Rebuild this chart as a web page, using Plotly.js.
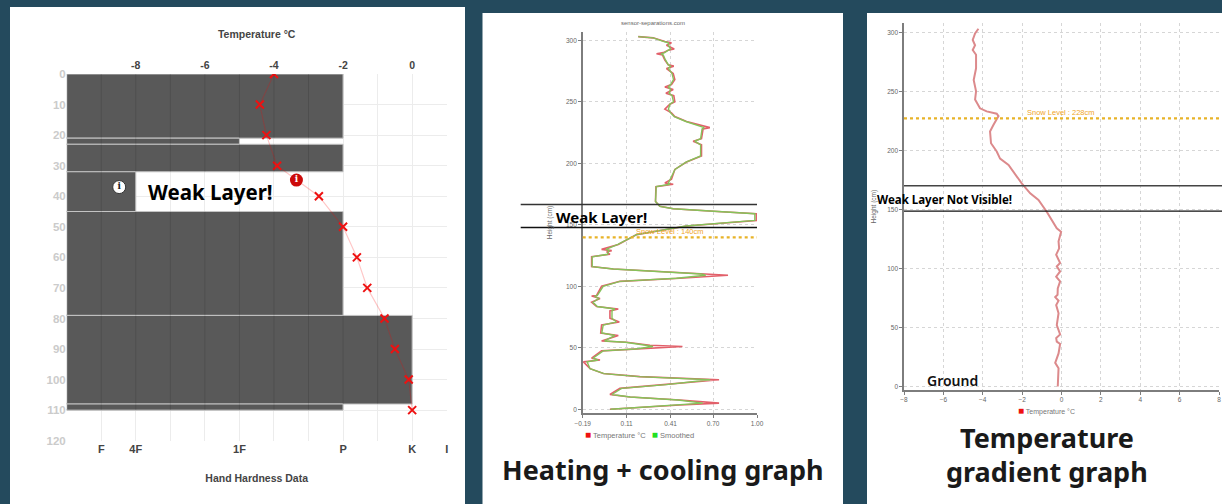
<!DOCTYPE html>
<html><head><meta charset="utf-8">
<script src="https://cdn.plot.ly/plotly-3.0.1.min.js"></script>
<style>html,body{margin:0;padding:0;background:#244a5d;overflow:hidden}</style>
</head><body><div id="chart" style="width:1222px;height:504px"></div>
<script>
// Chart 1: hand hardness profile
const layerTop = [0,21,23,32,45,79,108];
const layerBottom = [21,23,32,45,79,108,110];
const layerHardness = [-2,-5,-2,-8,-2,0,-2];
const leaderLeftDepth = [13.7,19.2,29.2,41.8,67.7,89.8,95.5];
const profileDepth = [0,10,20,30,40,50,60,70,80,90,100,110];
const profileTemp = [-4,-4.41,-4.22,-3.91,-2.7,-2,-1.6,-1.3,-0.8,-0.5,-0.1,0];
const hardnessVals = [-9,-8,-5,-2,0,1];
const hardnessText = ['F','4F','1F','P','K','I'];
const tempGrid = [-10,-9,-8,-7,-6,-5,-4,-3,-2,-1,0,1];
const tempLabelled = [-8,-6,-4,-2,0];
const depthTicks = [0,10,20,30,40,50,60,70,80,90,100,110,120];

// Chart 2: heating + cooling
const gradHeight = [303,302,299,298,296,293,292,290,289,288,284,280,279,277,273,268,264,262,260,257,255,250,248,244,241,238,234,231,229,228,220,218,215,206,201,195,187,184,183,181,169,165,163,161,159,153.5,151,149,142,138,134,130,129,128,126,124,116,114,111.5,110,109,106.5,104,100,92.5,92,90,87,83.5,81.5,80,74,71,68.5,62,60,55.5,54.5,52,51,49,47.5,41.5,40,38.5,33,29,26.5,24,20,17,12,10,7.5,5,3.5,1,0];
const gradRaw = [.189,.291,.371,.416,.382,.435,.394,.360,.314,.355,.371,.394,.432,.382,.428,.439,.416,.371,.428,.378,.432,.439,.405,.371,.416,.439,.519,.609,.678,.632,.621,.564,.621,.621,.519,.439,.416,.371,.428,.310,.307,.337,.428,.700,.995,.995,.700,.519,.178,.110,.053,-.061,.008,-.026,-.004,-.129,-.129,.019,.382,.678,.802,.473,.064,-.061,-.095,-.129,-.072,-.129,-.095,.053,-.004,-.004,.060,-.061,-.067,.053,-.061,.110,.269,.491,.178,-.061,-.129,-.072,-.185,-.140,-.049,.200,.741,.382,.064,-.004,.132,.473,.741,.473,.132,-.004];
const gradSmooth = [.189,.291,.365,.395,.395,.410,.395,.370,.345,.360,.375,.395,.410,.395,.420,.430,.410,.395,.410,.400,.420,.430,.405,.395,.410,.435,.515,.600,.640,.625,.615,.575,.615,.615,.515,.440,.410,.395,.405,.312,.307,.337,.428,.690,.985,.985,.695,.515,.178,.110,.050,-.030,-.010,-.015,-.020,-.125,-.125,.019,.370,.620,.650,.450,.064,-.050,-.090,-.110,-.080,-.120,-.090,.030,.010,.010,.040,-.050,-.060,.030,-.040,.100,.240,.290,.170,-.050,-.120,-.085,-.160,-.140,-.045,.195,.680,.380,.075,.010,.135,.460,.630,.465,.135,.000];
const gradXTicks = [-0.19,0.11,0.41,0.70,1.00];
const heightTicks = [0,50,100,150,200,250,300];
const snow2 = 139.7, weak2 = [166.5,147.8];

// Chart 3: temperature gradient
const tempHeight = [303,299,293.5,289,285,281,269.5,259.6,250,243,235.6,233,231,229,221.5,216,206,199,193,187.6,172,163.6,158,148,134,131,123,117,111.6,104.5,101.7,97.5,93,89,83,77.7,75.7,72.6,69,62,52,44,41,38,36,28,20,15.5,0];
const tempValue = [-4.22,-4.39,-4.51,-4.39,-4.51,-4.34,-4.34,-4.46,-4.34,-4.39,-4.14,-3.80,-3.29,-3.20,-3.46,-3.63,-3.58,-3.29,-3.12,-2.69,-2.02,-1.59,-1.17,-0.75,-0.24,-0.02,-0.15,-0.12,-0.27,-0.07,-0.24,-0.07,-0.27,-0.07,-0.19,-0.20,-0.32,-0.15,-0.27,-0.15,-0.24,-0.07,-0.27,-0.24,-0.07,-0.15,-0.32,-0.15,-0.19];
const temp3Ticks = [-8,-6,-4,-2,0,2,4,6,8];
const snow3 = 227, weak3 = [170,148.5];

const W = 1222, H = 504;
const dx = (a,b) => [a/W, b/W];
const dy = (t,b) => [1-b/H, 1-t/H];
const px = a => a/W, py = a => 1-a/H;
const sans = 'Liberation Sans, Arial, sans-serif';
const head = 'Noto Sans, sans-serif';

const traces = [
  { type:'bar', orientation:'h', xaxis:'x', yaxis:'y', name:'Hand hardness',
    y: layerTop.map((t,i)=>(t+layerBottom[i])/2),
    width: layerTop.map((t,i)=>layerBottom[i]-t),
    x: layerHardness.map(v=>v+10), base:-10,
    marker:{color:'#595959', line:{color:'#c4c4c4', width:1}}, showlegend:false },
  { type:'scatter', mode:'lines+markers', xaxis:'x2', yaxis:'y', name:'Temperature °C',
    x: profileTemp, y: profileDepth, showlegend:false,
    line:{color:'rgba(255,0,0,0.22)', width:1.2},
    marker:{symbol:'x-thin', size:8, color:'#ee1111', line:{color:'#ee1111', width:2}} }
];
// Leader lines running off the left of the profile
layerBottom.forEach((b,i)=>{
  traces.push({type:'scatter', mode:'lines', xaxis:'x2', yaxis:'y', cliponaxis:false, showlegend:false,
    x:[-11.64,-10], y:[leaderLeftDepth[i], b], line:{color:'#8f8f8f', width:1.3}});
});
traces.push(
  { type:'scatter', mode:'markers+text', xaxis:'x2', yaxis:'y', showlegend:false, cliponaxis:false,
    x:[-3.35], y:[34.7], text:['<b>i</b>'], textposition:'middle center',
    textfont:{color:'#fff', size:9, family:'DejaVu Serif'},
    marker:{size:13, color:'#cc0a0a'} },
  { type:'scatter', mode:'markers+text', xaxis:'x2', yaxis:'y', showlegend:false, cliponaxis:false,
    x:[-8.48], y:[37], text:['<b>i</b>'], textposition:'middle center',
    textfont:{color:'#222', size:9, family:'DejaVu Serif'},
    marker:{size:13, color:'#fff', line:{color:'#333', width:1}} },
  { type:'scatter', mode:'lines', xaxis:'x3', yaxis:'y3', name:'Temperature °C', showlegend:false,
    x:gradRaw, y:gradHeight, line:{color:'#e2606a', width:1.6} },
  { type:'scatter', mode:'lines', xaxis:'x3', yaxis:'y3', name:'Smoothed', showlegend:false,
    x:gradSmooth, y:gradHeight, line:{color:'#86c25a', width:1.4} },
  { type:'scatter', mode:'lines', xaxis:'x4', yaxis:'y4', name:'Temperature °C', showlegend:false,
    x:tempValue, y:tempHeight, line:{color:'#dc8a8c', width:2} }
);

const panel = (a,t,b,e) => ({type:'rect', xref:'paper', yref:'paper', layer:'below',
  x0:px(a), x1:px(b), y0:py(e), y1:py(t), fillcolor:'#fff', line:{width:0}});
const shapes = [panel(10,7,465,504), panel(482.5,13,843,504), panel(867,13,1222,504)];

// Darker grid showing through the hardness bars
tempGrid.forEach(g=>{
  layerTop.forEach((t,i)=>{
    if(g>-10 && g<layerHardness[i]) shapes.push({type:'line', xref:'x2', yref:'y', layer:'above',
      x0:g, x1:g, y0:t, y1:layerBottom[i], line:{color:'rgba(0,0,0,0.12)', width:1}});
  });
});
const hline = (yref,y,a,b,col,wd,dash) => ({type:'line', xref:'paper', yref, layer:'above',
  x0:px(a), x1:px(b), y0:y, y1:y, line:{color:col, width:wd, dash:dash||'solid'}});
shapes.push(
  hline('y3',snow2,582.7,757,'#e8b328',2.2,'dot'),
  hline('y3',weak2[0],520.7,757,'#333',1.4),
  hline('y3',weak2[1],520.7,757,'#111',1.4),
  hline('y4',snow3,904,1219,'#e8b328',2.2,'dot'),
  hline('y4',weak3[0],904,1222,'#444',1.4),
  hline('y4',weak3[1],904,1222,'#111',1.4)
);

const note = (text,x,y,size,color,weight,extra) => Object.assign({
  text, xref:'paper', yref:'paper', x:px(x), y:py(y), xanchor:'center', yanchor:'middle',
  showarrow:false, font:{family:head, size, color:color||'#000', weight:weight||700}
}, extra||{});
const annotations = [
  note('Weak Layer!',210,192,20.5),
  note('Weak Layer!',601,217,15),
  note('Weak Layer Not Visible!',944.5,200,11.5),
  note('Ground',952,380,14,'#111',600),
  note('Heating + cooling graph',662.5,469,27,'#1a1a1a',700),
  note('Temperature',1047,437,27,'#1a1a1a',700),
  note('gradient graph',1047,471,27,'#1a1a1a',700),
  note('Snow Level : 140cm',670,232,7,'#efa52a',400,{font:{family:sans,size:7.5,color:'#efa52a'}}),
  note('Snow Level : 228cm',1061,113,7,'#efa52a',400,{font:{family:sans,size:7.5,color:'#efa52a'}}),
  note('sensor-separations.com',653,23,6,'#666',400,{font:{family:sans,size:6,color:'#666'}}),
  note('<span style="color:#ee1111;font-size:10px">■</span> Temperature °C &nbsp;&nbsp;<span style="color:#22e022;font-size:10px">■</span> Smoothed',
       639,434,7,'#777',400,{font:{family:sans,size:7.5,color:'#777'}}),
  note('<span style="color:#ee1111;font-size:10px">■</span> Temperature °C',1046,410,7,'#777',400,{font:{family:sans,size:7,color:'#777'}})
];

const smallAxis = {
  showline:true, linecolor:'#7d7d7d', linewidth:1.6, ticks:'outside', ticklen:3, tickwidth:1, tickcolor:'#7d7d7d',
  showgrid:true, gridcolor:'#d6d6d6', griddash:'dot', gridwidth:1, zeroline:false,
  tickfont:{family:sans, size:6.5, color:'#666'}, tickmode:'array', fixedrange:true
};

const layout = {
  width:W, height:H, margin:{l:0,r:0,t:0,b:0,pad:0}, showlegend:false,
  paper_bgcolor:'#244a5d', plot_bgcolor:'rgba(0,0,0,0)', barmode:'overlay', shapes, annotations,
  font:{family:sans},
  xaxis:{domain:dx(66.7,446.7), range:[-10,1], anchor:'y', side:'bottom', tickmode:'array',
    tickvals:hardnessVals, ticktext:hardnessText, showgrid:false, zeroline:false, showline:false, ticks:'',
    tickfont:{family:sans,size:11,color:'#444',weight:700},
    title:{text:'Hand Hardness Data', standoff:20, font:{family:sans,size:10.5,color:'#444',weight:700}}},
  xaxis2:{domain:dx(66.7,446.7), range:[-10,1], anchor:'y', overlaying:'x', side:'top', tickmode:'array',
    tickvals:tempGrid, ticktext:tempGrid.map(v=>tempLabelled.includes(v)?String(v):''),
    showgrid:true, gridcolor:'#ececec', gridwidth:1, zeroline:false, showline:false, ticks:'',
    ticklabelstandoff:2, tickfont:{family:sans,size:10.5,color:'#444',weight:700},
    title:{text:'Temperature °C', standoff:18, font:{family:sans,size:10.5,color:'#444',weight:700}}},
  yaxis:{domain:dy(74,440.7), range:[120,0], anchor:'x', tickmode:'array', tickvals:depthTicks,
    showgrid:true, gridcolor:'#ececec', gridwidth:1, zeroline:false, showline:false, ticks:'',
    tickfont:{family:sans,size:11.5,color:'#cbcbcb',weight:700}},

  xaxis3:Object.assign({},smallAxis,{domain:dx(582.7,757), range:[-0.19,1.0], anchor:'y3', tickvals:gradXTicks, tickformat:'.2f'}),
  yaxis3:Object.assign({},smallAxis,{domain:dy(31.7,413.3), range:[-3.3,307], anchor:'x3', tickvals:heightTicks,
    title:{text:'Height (cm)', standoff:12, font:{family:sans,size:6.5,color:'#666'}}}),

  xaxis4:Object.assign({},smallAxis,{domain:dx(904,1219), range:[-8,8], anchor:'y4', tickvals:temp3Ticks}),
  yaxis4:Object.assign({},smallAxis,{domain:dy(23.3,390), range:[-3,307.6], anchor:'x4', tickvals:heightTicks,
    title:{text:'Height (cm)', standoff:10, font:{family:sans,size:6.5,color:'#666'}}})
};
Plotly.newPlot('chart', traces, layout, {displayModeBar:false, staticPlot:true});
</script></body></html>
